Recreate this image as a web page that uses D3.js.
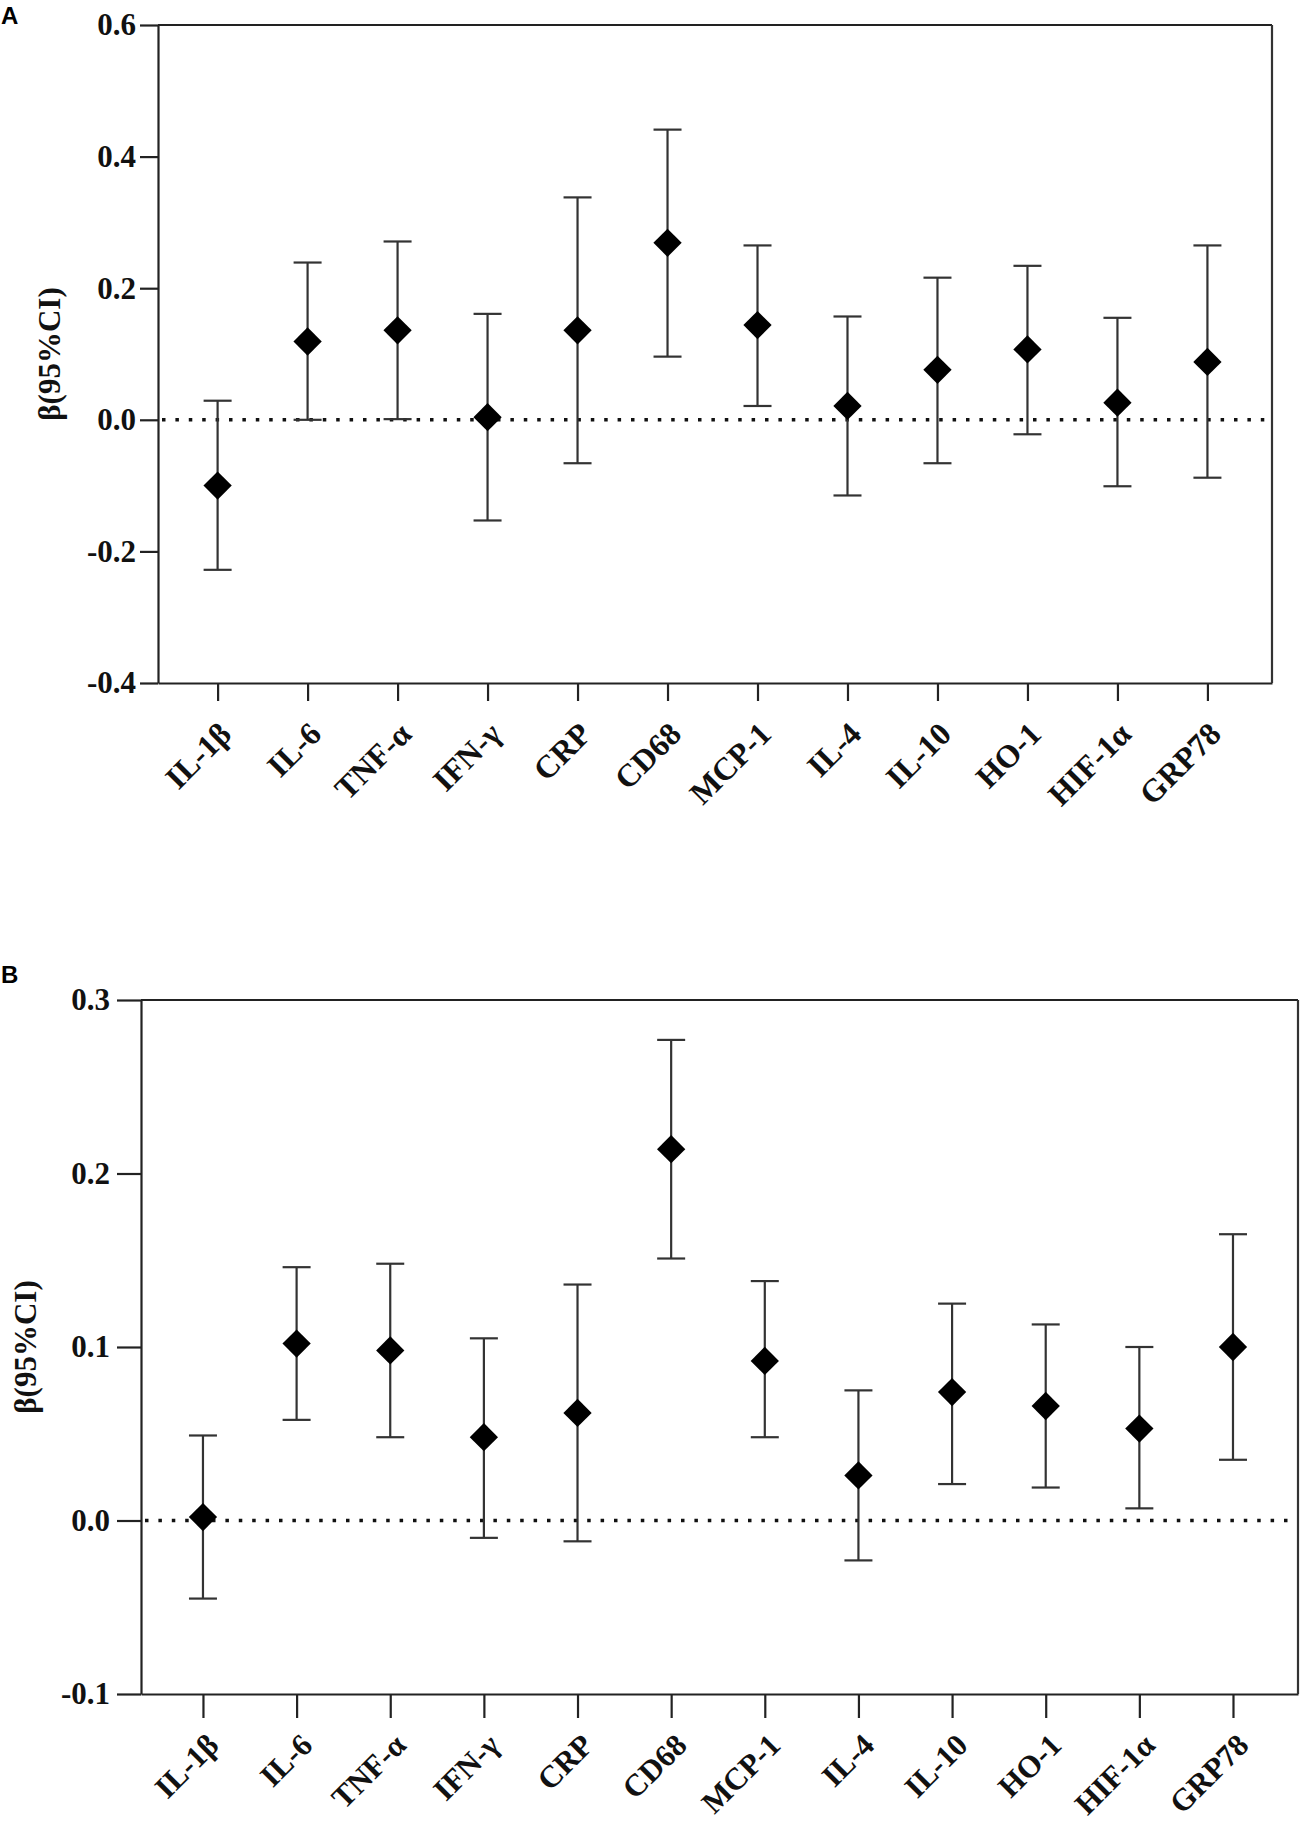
<!DOCTYPE html>
<html>
  <head>
    <meta charset="utf-8" />
    <script src="https://d3js.org/d3.v7.min.js"></script>
    <style>
      html,
      body {
        margin: 0;
        padding: 0;
        background: #fff;
      }
      svg {
        display: block;
      }
    </style>
    <title>beta forest</title>
  </head>
  <body>
    <svg id="chart" width="1305" height="1825"></svg>

    <script>
      // markers, same order in both panels
      var categories = ["IL-1β", "IL-6", "TNF-α", "IFN-γ", "CRP", "CD68", "MCP-1", "IL-4", "IL-10", "HO-1", "HIF-1α", "GRP78"];

      // panel A
      var betaA = [-0.100, 0.119, 0.136, 0.004, 0.136, 0.269, 0.144, 0.021, 0.076, 0.107, 0.026, 0.088];
      var lowerA = [-0.228, 0.000, 0.001, -0.153, -0.066, 0.096, 0.021, -0.115, -0.066, -0.022, -0.101, -0.088];
      var upperA = [0.029, 0.239, 0.271, 0.161, 0.338, 0.441, 0.265, 0.157, 0.216, 0.234, 0.155, 0.265];
      var ticksA = [-0.4, -0.2, 0.0, 0.2, 0.4, 0.6];

      // panel B
      var betaB = [0.002, 0.102, 0.098, 0.048, 0.062, 0.214, 0.092, 0.026, 0.074, 0.066, 0.053, 0.100];
      var lowerB = [-0.045, 0.058, 0.048, -0.010, -0.012, 0.151, 0.048, -0.023, 0.021, 0.019, 0.007, 0.035];
      var upperB = [0.049, 0.146, 0.148, 0.105, 0.136, 0.277, 0.138, 0.075, 0.125, 0.113, 0.100, 0.165];
      var ticksB = [-0.1, 0.0, 0.1, 0.2, 0.3];

      var yTitle = "β(95%CI)";
      var serif = "'Liberation Serif', 'Times New Roman', serif";

      var svg = d3.select("#chart");

      function drawPanel(p) {
        var g = svg.append("g");

        var x = d3.scalePoint().domain(categories).range([p.left, p.right]).padding(p.pad).align(p.align);
        var y = d3.scaleLinear().domain([p.ticks[0], p.ticks[p.ticks.length - 1]]).range([p.bottom, p.top]);

        var rows = categories.map(function (c, i) {
          return { name: c, beta: p.beta[i], lo: p.lower[i], hi: p.upper[i] };
        });

        // panel letter
        g.append("text")
          .attr("x", 1)
          .attr("y", p.letterY)
          .style("font-family", "'Liberation Sans', Arial, sans-serif")
          .style("font-weight", "bold")
          .style("font-size", "24px")
          .text(p.letter);

        // y axis
        var yAxis = g
          .append("g")
          .attr("transform", "translate(" + p.left + ",0)")
          .call(
            d3.axisLeft(y)
              .tickValues(p.ticks)
              .tickSize(p.tick)
              .tickSizeOuter(0)
              .tickPadding(p.tickPad)
          );
        yAxis.select(".domain").style("stroke", "#222").style("stroke-width", "2.2px");
        yAxis.selectAll(".tick line").style("stroke", "#222").style("stroke-width", "2.2px");
        yAxis.selectAll("text")
          .style("font-family", serif)
          .style("font-weight", "bold")
          .style("font-size", "31px")
          .style("fill", "#111")
          .text(function (d) {
            return d3.format(".1f")(d).replace("−", "-");
          });

        // x axis
        var xAxis = g
          .append("g")
          .attr("transform", "translate(0," + p.bottom + ")")
          .call(d3.axisBottom(x).tickSize(p.tick).tickSizeOuter(0));
        xAxis.select(".domain").style("stroke", "#222").style("stroke-width", "2.2px");
        xAxis.selectAll(".tick line").style("stroke", "#222").style("stroke-width", "2.2px");
        xAxis.selectAll("text")
          .attr("text-anchor", "end")
          .attr("dy", null)
          .attr("y", null)
          .attr("transform", "translate(" + p.labelDx + "," + p.labelDy + ") rotate(-45)")
          .style("font-family", serif)
          .style("font-weight", "bold")
          .style("font-size", p.labelSize + "px")
          .style("fill", "#111");

        // frame top and right
        g.append("line")
          .attr("x1", p.left)
          .attr("x2", p.right)
          .attr("y1", p.top)
          .attr("y2", p.top)
          .style("stroke", "#222")
          .style("stroke-width", "2.2px");
        g.append("line")
          .attr("x1", p.right)
          .attr("x2", p.right)
          .attr("y1", p.top)
          .attr("y2", p.bottom)
          .style("stroke", "#333")
          .style("stroke-width", "2.2px");

        // zero reference
        g.append("line")
          .attr("x1", p.left + 4)
          .attr("x2", p.right - 2)
          .attr("y1", y(0))
          .attr("y2", y(0))
          .style("stroke", "#111")
          .style("stroke-width", "3.5px")
          .style("stroke-dasharray", "3.5 9.9");

        // error bars
        var bars = g.selectAll(".bar").data(rows).enter().append("g").attr("class", "bar");
        bars.append("line")
          .attr("x1", function (d) { return x(d.name); })
          .attr("x2", function (d) { return x(d.name); })
          .attr("y1", function (d) { return y(d.lo); })
          .attr("y2", function (d) { return y(d.hi); })
          .style("stroke", "#333")
          .style("stroke-width", "2.2px");
        bars.append("line")
          .attr("x1", function (d) { return x(d.name) - 14; })
          .attr("x2", function (d) { return x(d.name) + 14; })
          .attr("y1", function (d) { return y(d.hi); })
          .attr("y2", function (d) { return y(d.hi); })
          .style("stroke", "#333")
          .style("stroke-width", "2.2px");
        bars.append("line")
          .attr("x1", function (d) { return x(d.name) - 14; })
          .attr("x2", function (d) { return x(d.name) + 14; })
          .attr("y1", function (d) { return y(d.lo); })
          .attr("y2", function (d) { return y(d.lo); })
          .style("stroke", "#333")
          .style("stroke-width", "2.2px");

        // diamonds
        g.selectAll(".pt")
          .data(rows)
          .enter()
          .append("path")
          .attr("class", "pt")
          .attr("d", d3.symbol().type(d3.symbolSquare).size(400))
          .attr("transform", function (d) {
            return "translate(" + x(d.name) + "," + y(d.beta) + ") rotate(45)";
          })
          .style("fill", "#000");

        // y title
        g.append("text")
          .attr("transform", "translate(" + p.titleX + "," + (p.top + p.bottom) / 2 + ") rotate(-90)")
          .attr("text-anchor", "middle")
          .style("font-family", serif)
          .style("font-weight", "bold")
          .style("font-size", "31px")
          .style("fill", "#111")
          .text(yTitle);
      }

      drawPanel({
        letter: "A",
        letterY: 24,
        beta: betaA,
        lower: lowerA,
        upper: upperA,
        ticks: ticksA,
        left: 158,
        right: 1272,
        top: 25,
        bottom: 683,
        pad: 0.69,
        align: 0.48,
        tick: 18,
        tickPad: 4,
        labelDx: 15,
        labelDy: 53,
        labelSize: 32,
        titleX: 60
      });

      drawPanel({
        letter: "B",
        letterY: 983,
        beta: betaB,
        lower: lowerB,
        upper: upperB,
        ticks: ticksB,
        left: 141,
        right: 1298,
        top: 1000,
        bottom: 1694,
        pad: 0.678,
        align: 0.488,
        tick: 24,
        tickPad: 7,
        labelDx: 17,
        labelDy: 53,
        labelSize: 31,
        titleX: 36
      });
    </script>
  </body>
</html>
